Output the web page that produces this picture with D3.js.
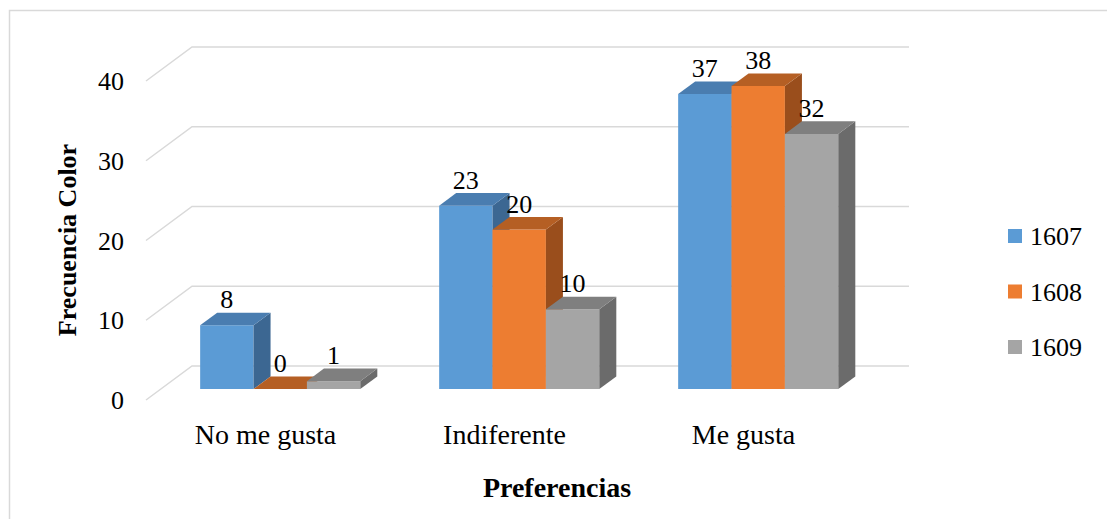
<!DOCTYPE html>
<html>
<head>
<meta charset="utf-8">
<script src="https://cdn.jsdelivr.net/npm/d3@7"></script>
<style>
  html, body { margin: 0; padding: 0; background: #fff; }
  svg { display: block; }
  text { font-family: "Liberation Serif", "Times New Roman", serif; fill: #000; }
</style>
</head>
<body>
<div id="chart"></div>
<script>
// Frequency of colour preference per group
const categories = ["No me gusta", "Indiferente", "Me gusta"];
const seriesNames = ["1607", "1608", "1609"];
const values1607 = [8, 23, 37];
const values1608 = [0, 20, 38];
const values1609 = [1, 10, 32];
const yTicks = [0, 10, 20, 30, 40];
const yTitle = "Frecuencia Color";
const xTitle = "Preferencias";

const series = [
  { name: seriesNames[0], values: values1607, front: "#5b9bd5", top: "#4a7db0", side: "#3c6792" },
  { name: seriesNames[1], values: values1608, front: "#ed7d31", top: "#b55f24", side: "#9a4e1c" },
  { name: seriesNames[2], values: values1609, front: "#a5a5a5", top: "#7f7f7f", side: "#6b6b6b" }
];

const W = 1107, H = 519;
const svg = d3.select("#chart").append("svg").attr("width", W).attr("height", H);

// chart area outline
svg.append("rect")
  .attr("x", 9.5).attr("y", 10.5).attr("width", W).attr("height", H)
  .attr("fill", "none").attr("stroke", "#d9d9d9").attr("stroke-width", 1.5);

// oblique projection: full floor depth and the bar slab inside it
const depth = { dx: 46, dy: -34 };
const barFront = 0.32;   // fraction of depth where bar front faces sit
const barDepth = 0.37;   // fraction of depth occupied by each bar

const x0 = d3.scaleBand().domain(categories).range([146, 863]).padding(0);
const groupW = x0.bandwidth() * 0.67;
const x1 = d3.scaleBand().domain(seriesNames).range([0, groupW]).padding(0);
const y = d3.scaleLinear().domain([0, 40]).range([400, 81]);

// gridlines: side-wall diagonal + back wall horizontal
const grid = svg.append("g").attr("stroke", "#d9d9d9").attr("stroke-width", 1.5).attr("fill", "none");
yTicks.forEach(t => {
  const xf = x0.range()[0], yf = y(t);
  grid.append("path")
    .attr("d", `M${xf},${yf}L${xf + depth.dx},${yf + depth.dy}L${x0.range()[1] + depth.dx},${yf + depth.dy}`);
});

// y tick labels
svg.append("g").selectAll("text").data(yTicks).join("text")
  .attr("x", 124).attr("y", d => y(d)).attr("dy", "0.35em")
  .attr("text-anchor", "end").attr("font-size", 26)
  .text(d => d);

// bars
const ox = depth.dx * barFront, oy = depth.dy * barFront;
const bx = depth.dx * barDepth, by = depth.dy * barDepth;
const barsG = svg.append("g");
const labels = [];
categories.forEach((cat, ci) => {
  const gx = x0(cat) + (x0.bandwidth() - groupW) / 2 + ox;
  series.forEach(s => {
    const v = s.values[ci];
    const xl = gx + x1(s.name), xr = xl + x1.bandwidth();
    const yb = y(0) + oy, yt = y(v) + oy;
    const g = barsG.append("g");
    // front face
    g.append("path").attr("fill", s.front)
      .attr("d", `M${xl},${yb}L${xr},${yb}L${xr},${yt}L${xl},${yt}Z`);
    // side face
    g.append("path").attr("fill", s.side)
      .attr("d", `M${xr},${yb}L${xr + bx},${yb + by}L${xr + bx},${yt + by}L${xr},${yt}Z`);
    // top face
    g.append("path").attr("fill", s.top)
      .attr("d", `M${xl},${yt}L${xr},${yt}L${xr + bx},${yt + by}L${xl + bx},${yt + by}Z`);
    labels.push({ x: (xl + xr) / 2, y: yt + by - 4.5, v });
  });
});

// data labels
svg.append("g").selectAll("text").data(labels).join("text")
  .attr("x", d => d.x).attr("y", d => d.y)
  .attr("text-anchor", "middle").attr("font-size", 26)
  .text(d => d.v);

// category labels
svg.append("g").selectAll("text").data(categories).join("text")
  .attr("x", d => x0(d) + x0.bandwidth() / 2).attr("y", 444)
  .attr("text-anchor", "middle").attr("font-size", 28)
  .text(d => d);

// axis titles
svg.append("text")
  .attr("transform", "translate(76,240) rotate(-90)")
  .attr("text-anchor", "middle").attr("font-size", 26).attr("font-weight", "bold")
  .text(yTitle);
svg.append("text")
  .attr("x", 557).attr("y", 497)
  .attr("text-anchor", "middle").attr("font-size", 28).attr("font-weight", "bold")
  .text(xTitle);

// legend
const legend = svg.append("g").selectAll("g").data(series).join("g")
  .attr("transform", (d, i) => `translate(1008,${229 + i * 55.5})`);
legend.append("rect").attr("width", 14).attr("height", 14).attr("fill", d => d.front);
legend.append("text").attr("x", 22).attr("y", 16).attr("font-size", 26).text(d => d.name);
</script>
</body>
</html>
